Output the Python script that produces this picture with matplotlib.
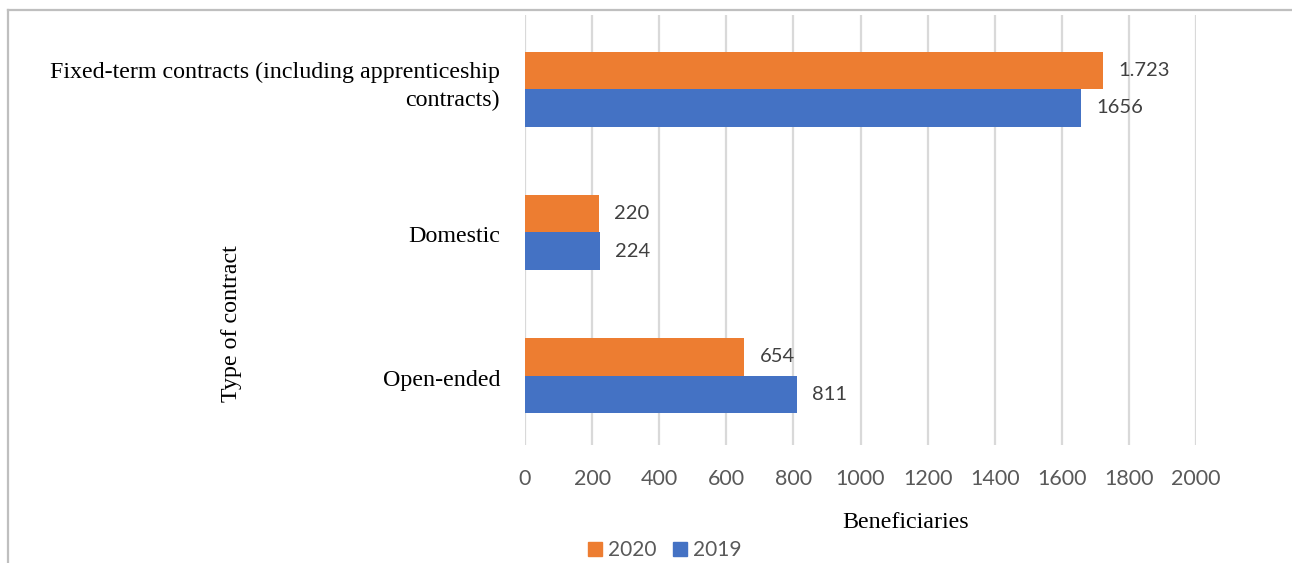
import matplotlib
matplotlib.use("Agg")
import matplotlib.pyplot as plt
from matplotlib.lines import Line2D
from matplotlib.patches import Patch
from matplotlib.transforms import ScaledTranslation
import numpy as np

categories = ["Open-ended", "Domestic",
              "Fixed-term contracts (including apprenticeship\ncontracts)"]
values_2020 = [654, 220, 1723]
values_2019 = [811, 224, 1656]
labels_2020 = ["654", "220", "1.723"]
labels_2019 = ["811", "224", "1656"]
xticks = [0, 200, 400, 600, 800, 1000, 1200, 1400, 1600, 1800, 2000]

ORANGE = "#ED7D31"
BLUE = "#4472C4"
GRID = "#D9D9D9"
TICK = "#595959"
VAL = "#404040"

W, H = 1292, 563
fig = plt.figure(figsize=(W / 100, H / 100), dpi=100)

# plot area in pixel coordinates
x0, x1 = 525, 1196
y_top, y_bot = 15, 445
ax = fig.add_axes([x0 / W, 1 - y_bot / H, (x1 - x0) / W, (y_bot - y_top) / H])

y = np.arange(len(categories))
h = 0.262
ax.barh(y + h / 2, values_2020, height=h, color=ORANGE, zorder=3)
ax.barh(y - h / 2, values_2019, height=h, color=BLUE, zorder=3)

for yi, v, t in zip(y, values_2020, labels_2020):
    ax.annotate(t, (v, yi + h / 2), xytext=(11, 0), textcoords="offset points",
                va="center", ha="left", fontsize=14.5, color=VAL, family="Lato")
for yi, v, t in zip(y, values_2019, labels_2019):
    ax.annotate(t, (v, yi - h / 2), xytext=(11, 0), textcoords="offset points",
                va="center", ha="left", fontsize=14.5, color=VAL, family="Lato")

ax.set_xlim(0, 2000)
ax.set_ylim(-0.483, 2.517)
ax.set_xticks(xticks)
ax.set_xticklabels([str(t) for t in xticks], fontsize=15.5, color=TICK, family="Lato")
ax.set_yticks(y)
ax.set_yticklabels(categories, fontsize=17.3, family="Liberation Serif",
                   color="black", ha="right")
ax.tick_params(axis="both", length=0)
ax.tick_params(axis="x", pad=17)
ax.tick_params(axis="y", pad=18)
ax.grid(axis="x", color=GRID, linewidth=1.6, zorder=0)
for s in ax.spines.values():
    s.set_visible(False)

# the two-line category label sits a little above its bar pair
for lbl in ax.get_yticklabels():
    if "\n" in lbl.get_text():
        lbl.set_linespacing(1.45)
        lbl.set_transform(lbl.get_transform()
                          + ScaledTranslation(0, 0.09, fig.dpi_scale_trans))
    else:
        lbl.set_transform(lbl.get_transform()
                          + ScaledTranslation(0, -0.02, fig.dpi_scale_trans))

fig.text(906 / W, 1 - 522 / H, "Beneficiaries", fontsize=17.3,
         family="Liberation Serif", ha="center", va="center")
fig.text(232 / W, 1 - 324 / H, "Type of contract", fontsize=17.3,
         family="Liberation Serif", ha="center", va="center", rotation=90)

handles = [Patch(color=ORANGE, label="2020"), Patch(color=BLUE, label="2019")]
fig.legend(handles=handles, loc="center", bbox_to_anchor=(665 / W, 1 - 550 / H),
           ncol=2, frameon=False, prop={"family": "Lato", "size": 15},
           handlelength=0.65, handleheight=0.65, handletextpad=0.3,
           columnspacing=0.8, labelcolor=TICK)

# outer frame lines (top and left)
frame_color = "#BFBFBF"
fig.add_artist(Line2D([8 / W, 1], [1 - 10 / H, 1 - 10 / H], color=frame_color,
                      linewidth=1.6, transform=fig.transFigure))
fig.add_artist(Line2D([8 / W, 8 / W], [1 - 10 / H, 0], color=frame_color,
                      linewidth=1.6, transform=fig.transFigure))

fig.savefig("out.png", dpi=100, facecolor="white")
